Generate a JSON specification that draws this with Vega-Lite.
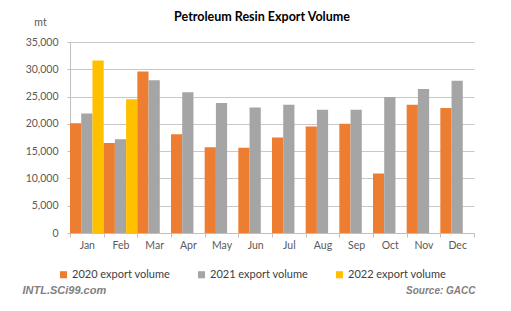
{
  "$schema": "https://vega.github.io/schema/vega-lite/v6.json",
  "width": 404,
  "height": 191,
  "autosize": {"type": "none"},
  "padding": {"left": 70, "top": 42, "right": 37, "bottom": 78},
  "background": "white",
  "title": {"text": "Petroleum Resin Export Volume", "font": "Lato", "fontSize": 12.5, "fontWeight": "bold", "color": "#000000", "offset": -6, "dx": -10},
  "data": {"values": [
    {"month": "Jan", "series": "2020 export volume", "value": 20100},
    {"month": "Jan", "series": "2021 export volume", "value": 21900},
    {"month": "Jan", "series": "2022 export volume", "value": 31600},
    {"month": "Feb", "series": "2020 export volume", "value": 16500},
    {"month": "Feb", "series": "2021 export volume", "value": 17200},
    {"month": "Feb", "series": "2022 export volume", "value": 24500},
    {"month": "Mar", "series": "2020 export volume", "value": 29600},
    {"month": "Mar", "series": "2021 export volume", "value": 28000},
    {"month": "Apr", "series": "2020 export volume", "value": 18100},
    {"month": "Apr", "series": "2021 export volume", "value": 25800},
    {"month": "May", "series": "2020 export volume", "value": 15700},
    {"month": "May", "series": "2021 export volume", "value": 23800},
    {"month": "Jun", "series": "2020 export volume", "value": 15600},
    {"month": "Jun", "series": "2021 export volume", "value": 23000},
    {"month": "Jul", "series": "2020 export volume", "value": 17500},
    {"month": "Jul", "series": "2021 export volume", "value": 23500},
    {"month": "Aug", "series": "2020 export volume", "value": 19500},
    {"month": "Aug", "series": "2021 export volume", "value": 22600},
    {"month": "Sep", "series": "2020 export volume", "value": 20000},
    {"month": "Sep", "series": "2021 export volume", "value": 22600},
    {"month": "Oct", "series": "2020 export volume", "value": 10900},
    {"month": "Oct", "series": "2021 export volume", "value": 24900},
    {"month": "Nov", "series": "2020 export volume", "value": 23500},
    {"month": "Nov", "series": "2021 export volume", "value": 26400},
    {"month": "Dec", "series": "2020 export volume", "value": 22900},
    {"month": "Dec", "series": "2021 export volume", "value": 27900}
  ]},
  "encoding": {
    "y": {"field": "value", "type": "quantitative",
      "scale": {"domain": [0, 35000], "nice": false},
      "axis": {"title": "mt", "titleAngle": 0, "titleX": -30, "titleY": -20, "titleAlign": "center", "titleBaseline": "middle",
        "titleFont": "Lato", "titleFontSize": 10.5, "titleFontWeight": "normal", "titleColor": "#595959",
        "values": [0,5000,10000,15000,20000,25000,30000,35000], "format": ",d", "labelOverlap": false,
        "labelFont": "Lato", "labelFontSize": 10.5, "labelColor": "#595959", "labelPadding": 9,
        "tickSize": 3, "tickColor": "#bfbfbf", "domainColor": "#bfbfbf", "grid": true, "gridColor": "#c8c8c8"}}
  },
  "layer": [
    {
      "mark": {"type": "bar"},
      "encoding": {
        "x": {"field": "month", "type": "nominal", "sort": ["Jan","Feb","Mar","Apr","May","Jun","Jul","Aug","Sep","Oct","Nov","Dec"],
          "scale": {"paddingInner": 0, "paddingOuter": 0},
          "axis": {"orient": "bottom", "title": "Source: GACC", "titleX": 405, "titleY": 57, "titleAlign": "right", "titleAnchor": null, "titleBaseline": "middle",
            "titleFont": "Liberation Sans", "titleFontSize": 10, "titleFontWeight": "bold", "titleFontStyle": "italic", "titleColor": "#7f7f7f",
            "labelAngle": 0, "labelFont": "Lato", "labelFontSize": 10.5, "labelColor": "#595959", "labelPadding": 3,
            "tickBand": "extent", "tickSize": 4, "tickColor": "#bfbfbf", "domainColor": "#bfbfbf", "grid": false}},
        "xOffset": {"field": "series", "type": "nominal", "scale": {"domain": ["2020 export volume","2021 export volume","2022 export volume"], "paddingInner": 0, "paddingOuter": 0}},
        "color": {"field": "series", "type": "nominal",
          "scale": {"domain": ["2020 export volume","2021 export volume","2022 export volume"], "range": ["#ED7D31","#A5A5A5","#FFC000"]},
          "legend": {"title": null, "orient": "none", "legendX": -12, "legendY": 227, "direction": "horizontal", "columns": 3,
            "symbolType": "square", "symbolSize": 50, "symbolStrokeWidth": 0, "symbolOpacity": 1,
            "labelFont": "Lato", "labelFontSize": 11, "labelColor": "#404040", "labelOffset": 3, "columnPadding": 25}}
      }
    },
    {
      "mark": {"type": "bar", "opacity": 0},
      "encoding": {
        "x": {"field": "month", "type": "nominal", "sort": ["Jan","Feb","Mar","Apr","May","Jun","Jul","Aug","Sep","Oct","Nov","Dec"],
          "axis": {"orient": "bottom", "title": "INTL.SCi99.com", "titleX": -48, "titleY": 57, "titleAlign": "left", "titleAnchor": null, "titleBaseline": "middle",
            "titleFont": "Liberation Sans", "titleFontSize": 11, "titleFontWeight": "bold", "titleFontStyle": "italic", "titleColor": "#7f7f7f",
            "labels": false, "ticks": false, "domain": false, "grid": false}},
        "xOffset": {"field": "series", "type": "nominal"}
      }
    }
  ],
  "resolve": {"axis": {"x": "independent"}},
  "config": {"view": {"stroke": null}}
}
